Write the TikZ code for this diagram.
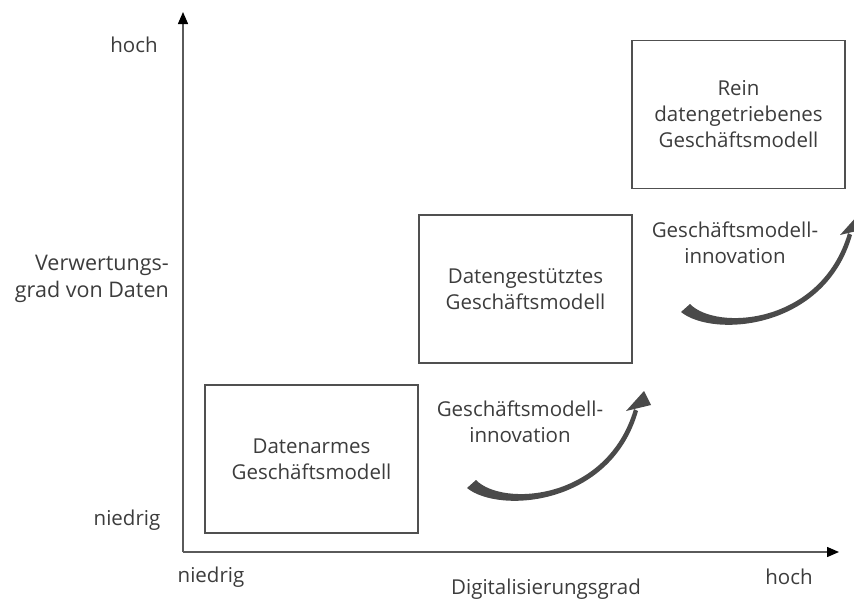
\documentclass[tikz,border=0pt]{standalone}
\usepackage{fontspec}
\setmainfont{Open Sans}
\usetikzlibrary{arrows.meta}
\definecolor{txt}{HTML}{3C3C3C}
\definecolor{axisgray}{HTML}{5A5A5A}
\definecolor{boxgray}{HTML}{505050}
\definecolor{arrowgray}{HTML}{4A4A4A}
\begin{document}
\begin{tikzpicture}[x=1pt,y=-1pt,
  lbl/.style={text=txt,font=\fontsize{20.5}{26}\selectfont,inner sep=0pt,align=center},
  model/.style={lbl,draw=boxgray,line width=1.1pt,minimum width=213pt,minimum height=148pt},
  axis/.style={draw=axisgray,line width=1.4pt,-{Triangle[length=12pt,width=10pt,color=black]}},
  pics/swoosh/.style={code={
    \fill[arrowgray] (4,-4) .. controls (30,23) and (135,17) .. (162,-75)
      -- (166,-73) .. controls (139,22) and (27,30) .. (-5,4) -- cycle;
    \fill[arrowgray] (172,-93) -- (154,-73) -- (179,-79) -- cycle;
  }}]
\useasboundingbox (0,0) rectangle (854,606);

% axes
\coordinate (O) at (183,552);
\coordinate (ytip) at (183,12);
\coordinate (xtip) at (839,552);
\draw[axis] (O) -- (ytip);
\draw[axis] (O) -- (xtip);

% axis labels
\node[lbl] (yhigh) at (134,45) {hoch};
\node[lbl,anchor=east,align=right,font=\fontsize{21.5}{27}\selectfont] (ytitle) at (169,279) {Verwertungs-\\grad von Daten};
\node[lbl] (ylow) at (127,520) {niedrig};
\node[lbl] (xlow) at (211,577) {niedrig};
\node[lbl] (xtitle) at (546,589) {Digitalisierungsgrad};
\node[lbl] (xhigh) at (789,577) {hoch};

% business model levels
\node[model] (m1) at (311.5,459) {Datenarmes\\Geschäftsmodell};
\node[model] (m2) at (525.5,289) {Datengestütztes\\Geschäftsmodell};
\node[model] (m3) at (738.5,114.5) {Rein\\datengetriebenes\\Geschäftsmodell};

% innovation steps
\pic at (472,484) {swoosh};
\pic at (686,308) {swoosh};
\node[lbl] (i1) at (520,422) {Geschäftsmodell-\\innovation};
\node[lbl] (i2) at (735,243) {Geschäftsmodell-\\innovation};
\end{tikzpicture}
\end{document}
